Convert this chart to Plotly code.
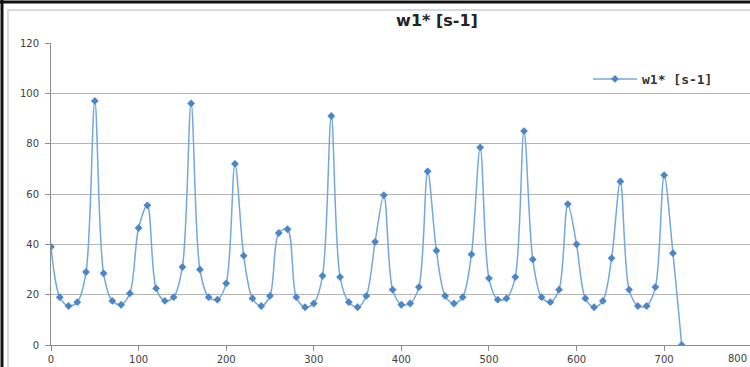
import plotly.graph_objects as go

x_vals = list(range(0, 730, 10))
w1_vals = [39, 19, 15.5, 17, 29, 97, 28.5, 17.5, 16, 20.5,
           46.5, 55.5, 22.5, 17.5, 19, 31, 96, 30, 19, 18,
           24.5, 72, 35.5, 18.5, 15.5, 19.5, 44.5, 46, 19, 15,
           16.5, 27.5, 91, 27, 17, 15, 19.5, 41, 59.5, 22,
           16, 16.5, 23, 69, 37.5, 19.5, 16.5, 19, 36, 78.5,
           26.5, 18, 18.5, 27, 85, 34, 19, 17, 22, 56,
           40, 18.5, 15, 17.5, 34.5, 65, 22, 15.5, 15.5, 23,
           67.5, 36.5, 0]
series_name = "w1* [s-1]"
title_text = "w1* [s-1]"
x_ticks = [0, 100, 200, 300, 400, 500, 600, 700, 800]
y_ticks = [0, 20, 40, 60, 80, 100, 120]
x_max_visible = 798

W, H = 750, 367
ml, mr, mt, mb = 51, 0, 43, 22

fig = go.Figure()
fig.add_trace(go.Scatter(
    x=x_vals, y=w1_vals, name=series_name, mode="lines+markers",
    line=dict(color="#74a7dc", width=1.5, shape="spline", smoothing=0.9),
    marker=dict(symbol="diamond", size=6, color="#4a86c8"),
))

tickfont = dict(family="DejaVu Sans", size=10, color="#404040")
axis_common = dict(
    showline=True, linecolor="#8c8c8c", linewidth=1,
    ticks="outside", ticklen=5, tickcolor="#8c8c8c",
    tickfont=tickfont, zeroline=False,
)
fig.update_xaxes(range=[0, x_max_visible], tickvals=x_ticks, showgrid=False, **axis_common)
fig.update_yaxes(range=[0, 120], tickvals=y_ticks, showgrid=True, ticklabelstandoff=4,
                 gridcolor="#b4b4b4", gridwidth=1, **axis_common)

def px(xp):
    return (xp - ml) / (W - ml - mr)

def py(yp):
    return 1 - (yp - mt) / (H - mt - mb)

# last x tick label, kept inside the window at the right edge
fig.add_annotation(text=str(x_ticks[-1]), xref="paper", yref="paper",
                   x=px(749), y=0, xanchor="right", yanchor="top", yshift=-6,
                   showarrow=False, font=tickfont)

# frame lines (screenshot border)
fig.add_shape(type="line", xref="paper", yref="paper", x0=px(0), x1=px(750), y0=py(2), y1=py(2),
              line=dict(color="#111111", width=3))
fig.add_shape(type="line", xref="paper", yref="paper", x0=px(2), x1=px(2), y0=py(0), y1=py(367),
              line=dict(color="#111111", width=3))
fig.add_shape(type="rect", xref="paper", yref="paper", x0=px(8), x1=px(760), y0=py(10), y1=py(400),
              line=dict(color="#c8d0d8", width=1.5))

fig.update_layout(
    width=W, height=H,
    margin=dict(l=ml, r=mr, t=mt, b=mb),
    paper_bgcolor="white", plot_bgcolor="white",
    title=dict(text="<b>" + title_text + "</b>", x=437 / W, xanchor="center",
               y=1 - 20 / H, yanchor="middle",
               font=dict(family="DejaVu Sans", size=16, color="#222222")),
    showlegend=True,
    legend=dict(x=px(588), y=py(64), xanchor="left", yanchor="top",
                bgcolor="rgba(0,0,0,0)", itemwidth=44,
                font=dict(family="DejaVu Sans Mono", size=13, color="#333333", weight="bold")),
)

fig.write_html("out.html")
